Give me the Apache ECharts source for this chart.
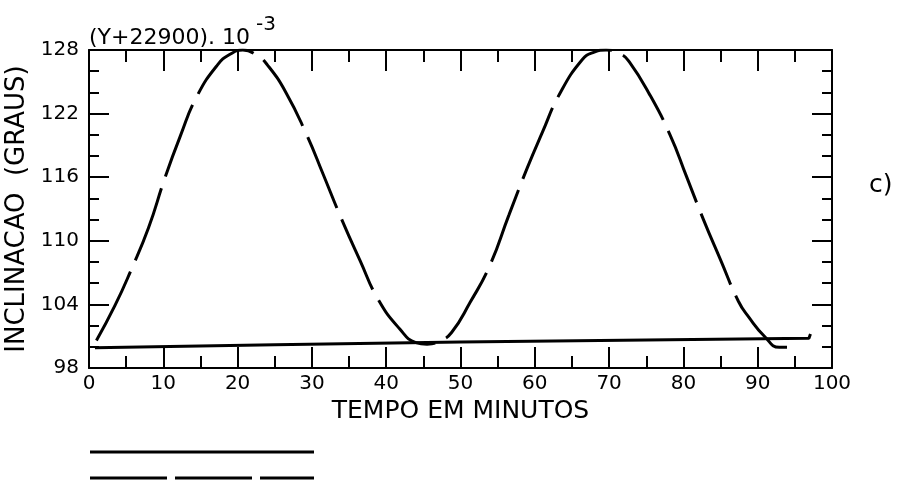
<!DOCTYPE html>
<html>
<head>
<meta charset="utf-8">
<script src="https://cdn.jsdelivr.net/npm/echarts@6/dist/echarts.min.js"></script>
<style>html,body{margin:0;padding:0;background:#fff}#c{width:914px;height:482px}</style>
</head>
<body>
<div id="c"></div>
<script>
// Tick labels
var xTicks = [0, 10, 20, 30, 40, 50, 60, 70, 80, 90, 100];
var yTicks = [98, 104, 110, 116, 122, 128];

// Dashed curve: minutes and values
var curveX = [1.0, 3.5, 5.7, 8.0, 10.2, 12.3, 14.5, 17.3, 19.0, 20.7, 22.6, 24.0, 26.5, 29.3, 31.5, 33.9, 36.5, 38.9, 41.8, 44.0, 45.5, 47.2, 48.8, 51.3, 53.9, 56.5, 59.0, 61.0, 63.3, 66.4, 68.0, 69.6, 71.6, 72.7, 75.3, 78.2, 80.4, 82.7, 85.0, 87.4, 88.8, 90.9, 92.9, 94.5, 95.3];
var curveY = [100.6, 103.9, 107.3, 111.2, 115.9, 119.9, 123.6, 126.6, 127.6, 128.0, 127.5, 126.6, 124.0, 120.0, 116.3, 112.2, 108.1, 104.5, 101.7, 100.4, 100.25, 100.55, 101.35, 104.2, 107.6, 112.4, 116.9, 120.2, 123.8, 127.1, 127.8, 128.0, 127.6, 126.9, 124.0, 120.0, 116.1, 112.0, 108.2, 104.3, 102.8, 101.0, 99.95, 99.95, 100.3];

// Solid line: minutes and values
var solidX = [0.8, 25, 50, 75, 96.9, 97.1];
var solidY = [99.9, 100.2, 100.45, 100.65, 100.8, 101.2];

var curveData = curveX.map(function (x, i) { return [x, curveY[i]]; });
var solidData = solidX.map(function (x, i) { return [x, solidY[i]]; });

var FONT = 'DejaVu Sans';
var BLACK = '#000';

function xAxisCfg(pos, showLabel) {
  return {
    type: 'value', position: pos, min: 0, max: 100, interval: 10,
    axisLine: { show: true, onZero: false, lineStyle: { color: BLACK, width: 2 } },
    axisTick: { show: true, inside: true, length: 21, lineStyle: { color: BLACK, width: 2 } },
    minorTick: { show: true, splitNumber: 2, length: 12, lineStyle: { color: BLACK, width: 2 } },
    splitLine: { show: false },
    axisLabel: { show: showLabel, margin: 6, color: BLACK, fontFamily: FONT, fontSize: 20,
      formatter: function (v) { return xTicks.indexOf(v) >= 0 ? String(v) : ''; } },
    name: showLabel ? 'TEMPO EM MINUTOS' : '',
    nameLocation: 'middle', nameGap: 16,
    nameTextStyle: { color: BLACK, fontFamily: FONT, fontSize: 25 }
  };
}
function yAxisCfg(pos, showLabel) {
  return {
    type: 'value', position: pos, min: 98, max: 128, interval: 6,
    axisLine: { show: true, onZero: false, lineStyle: { color: BLACK, width: 2 } },
    axisTick: { show: true, inside: true, length: 20, lineStyle: { color: BLACK, width: 2 } },
    minorTick: { show: true, splitNumber: 3, length: 10, lineStyle: { color: BLACK, width: 2 } },
    splitLine: { show: false },
    axisLabel: { show: showLabel, margin: 10, color: BLACK, fontFamily: FONT, fontSize: 20,
      formatter: function (v) { return yTicks.indexOf(v) >= 0 ? String(v) : ''; } },
    name: showLabel ? 'INCLINACAO  (GRAUS)' : '',
    nameLocation: 'middle', nameGap: 52, nameRotate: 90,
    nameTextStyle: { color: BLACK, fontFamily: FONT, fontSize: 26 }
  };
}

var chart = echarts.init(document.getElementById('c'), null, { renderer: 'canvas' });
chart.setOption({
  backgroundColor: '#fff',
  animation: false,
  grid: { left: 89, right: 82, top: 50, bottom: 114, containLabel: false, outerBoundsMode: 'none' },
  xAxis: [xAxisCfg('bottom', true), xAxisCfg('top', false)],
  yAxis: [yAxisCfg('left', true), yAxisCfg('right', false)],
  series: [
    { type: 'line', data: solidData, showSymbol: false, symbol: 'none', smooth: false,
      lineStyle: { color: BLACK, width: 3 } },
    { type: 'line', data: curveData, showSymbol: false, symbol: 'none', smooth: 0.5,
      lineStyle: { color: BLACK, width: 3, type: [77, 12] } }
  ],
  graphic: [
    { type: 'text', left: 89, top: 27,
      style: { text: '(Y+22900). 10', fontFamily: FONT, fontSize: 22, fill: BLACK } },
    { type: 'text', left: 256, top: 15,
      style: { text: '-3', fontFamily: FONT, fontSize: 20, fill: BLACK } },
    { type: 'text', left: 869, top: 173,
      style: { text: 'c)', fontFamily: FONT, fontSize: 25, fill: BLACK } },
    { type: 'line', shape: { x1: 90, y1: 452, x2: 314, y2: 452 },
      style: { stroke: BLACK, lineWidth: 3 } },
    { type: 'line', shape: { x1: 90, y1: 478, x2: 314, y2: 478 },
      style: { stroke: BLACK, lineWidth: 3, lineDash: [77, 8] } }
  ]
});
</script>
</body>
</html>
